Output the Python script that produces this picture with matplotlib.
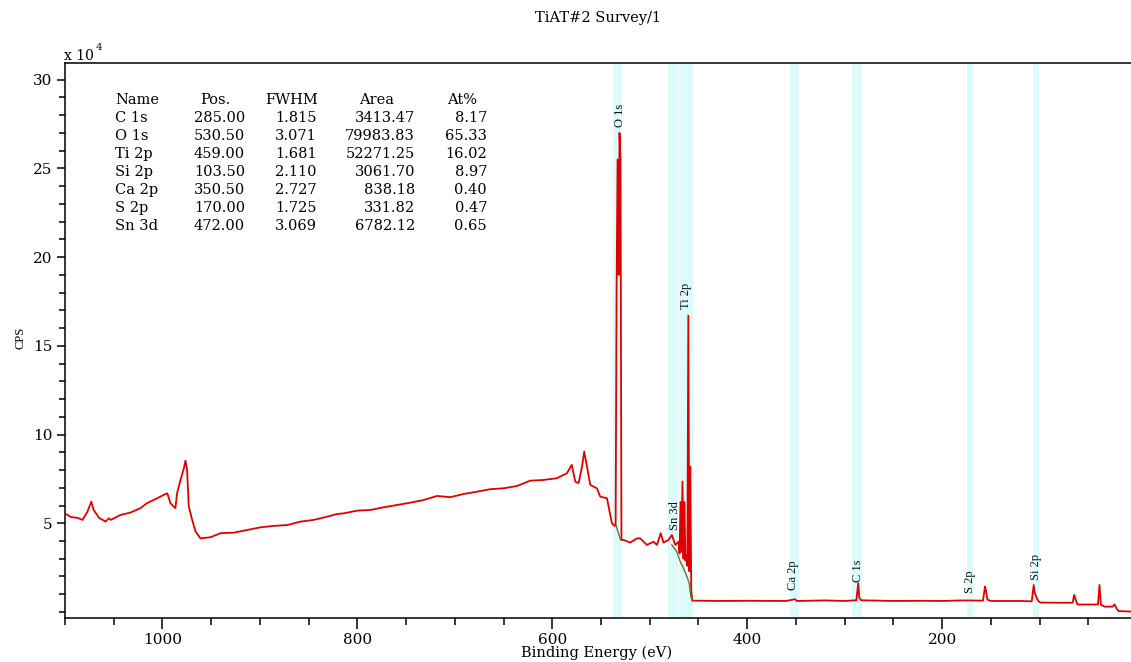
import matplotlib
matplotlib.use("Agg")
import matplotlib.pyplot as plt
from matplotlib.ticker import MultipleLocator

# ---------------- data (counts in units of 10^4 CPS) ----------------
energy = [1100, 1094, 1087, 1082, 1077, 1073, 1070.6, 1065, 1060, 1058.5, 1055, 1053,
          1043, 1033, 1022.6, 1015.7, 1005.4, 998.7, 995, 991.8, 986.7, 985, 981.5,
          978, 976.4, 974.7, 973, 969.5, 966, 961, 950.8, 940.5, 926.9, 913.2, 899.5,
          885.9, 872, 858.5, 844.8, 831, 820.8, 814, 800.3, 786.7, 773, 759.3, 745.6,
          732, 718.3, 704.6, 691, 677.2, 663.6, 650, 636.2, 622.6, 609, 595.2, 585,
          580, 576.4, 573, 569.5, 567.2, 564.4, 561, 554.2, 550.8, 543.9, 541.2,
          538.8, 536, 535, 534, 533, 532, 531, 530, 529, 526.9, 520, 513.1, 509.7,
          503, 496, 492.6, 488.7, 485.9, 480.7, 477.3, 473.8, 470.4, 469.4, 468.4,
          467.4, 466.4, 465.4, 464.4, 463.4, 462.4, 461.4, 460.4, 459.4, 458.4,
          457.4, 456.4, 430, 400, 360, 351, 349, 320, 300, 288, 286, 285, 283, 250,
          220, 200, 180, 158, 156, 155, 153.5, 150, 120, 108, 106, 105, 103, 101, 99,
          80, 66, 64.5, 63, 61, 50, 40, 38.5, 37, 33, 25, 23, 21, 19, 5, 0]
counts = [5.56, 5.35, 5.30, 5.19, 5.65, 6.22, 5.75, 5.30, 5.15, 5.09, 5.28, 5.19,
          5.47, 5.60, 5.85, 6.14, 6.41, 6.60, 6.69, 6.13, 5.85, 6.69, 7.44,
          8.10, 8.53, 8.00, 5.94, 5.19, 4.53, 4.15, 4.21, 4.44, 4.47, 4.62, 4.77,
          4.85, 4.90, 5.09, 5.19, 5.37, 5.52, 5.56, 5.71, 5.75, 5.90, 6.03, 6.16,
          6.31, 6.54, 6.47, 6.65, 6.78, 6.92, 6.97, 7.10, 7.40, 7.44, 7.54, 7.82,
          8.29, 7.35, 7.26, 8.19, 9.04, 8.19, 7.16, 6.97, 6.50, 6.41, 5.65,
          5.00, 4.85, 4.90, 18.15, 25.5, 19.0, 27.0, 25.5, 4.06, 4.06, 3.91, 4.15, 4.15,
          3.78, 3.96, 3.78, 4.44, 3.91, 4.06, 4.34, 3.78, 3.96, 3.30, 6.20,
          3.40, 7.35, 3.00, 6.20, 2.90, 3.20, 2.60, 16.70, 2.30, 8.20,
          1.20, 0.64, 0.62, 0.63, 0.62, 0.72, 0.62, 0.65, 0.62, 0.66, 1.62, 0.80, 0.66, 0.62,
          0.63, 0.62, 0.65, 0.64, 1.43, 1.20, 0.70, 0.62, 0.62, 0.60, 1.52, 1.10, 0.80, 0.60, 0.53,
          0.52, 0.52, 0.96, 0.70, 0.42, 0.42, 0.42, 1.52, 0.40, 0.30, 0.30, 0.43, 0.20, 0.05, 0.02, 0.02]

# background (olive) lines under the fitted regions
bg_o1s_energy = [534.4, 530.0]
bg_o1s_counts = [4.85, 4.06]
bg_ti_energy = [477.3, 472.3, 468.7, 465.3, 461.8, 459.5, 457.8, 456.4]
bg_ti_counts = [3.78, 3.40, 2.84, 2.46, 1.99, 1.62, 0.86, 0.64]

# shaded regions (eV, high -> low)
region_hi = [537.4, 481.0, 470.0, 356.0, 292.6, 174.8, 107.0]
region_lo = [528.2, 471.0, 456.0, 346.7, 282.4, 168.7, 101.0]

# peak labels
peak_names = ["O 1s", "Sn 3d", "Ti 2p", "Ca 2p", "C 1s", "S 2p", "Si 2p"]
peak_label_e = [530.3, 473.8, 463.0, 352.8, 286.0, 171.0, 103.6]
peak_label_y = [27.34, 4.62, 17.1, 1.24, 1.69, 1.07, 1.80]

# quantification table
tbl_header = ["Name", "Pos.", "FWHM", "Area", "At%"]
tbl_name = ["C 1s", "O 1s", "Ti 2p", "Si 2p", "Ca 2p", "S 2p", "Sn 3d"]
tbl_pos = ["285.00", "530.50", "459.00", "103.50", "350.50", "170.00", "472.00"]
tbl_fwhm = ["1.815", "3.071", "1.681", "2.110", "2.727", "1.725", "3.069"]
tbl_area = ["3413.47", "79983.83", "52271.25", "3061.70", "838.18", "331.82", "6782.12"]
tbl_at = ["8.17", "65.33", "16.02", "8.97", "0.40", "0.47", "0.65"]

xticks = [1000, 800, 600, 400, 200, 0]
yticks = [5, 10, 15, 20, 25, 30]

# ---------------- figure ----------------
W, H = 1131, 662
fig = plt.figure(figsize=(W / 100, H / 100), dpi=100)
ax = fig.add_axes([65 / W, (H - 618) / H, (1137 - 65) / W, (618 - 62.7) / H])

serif = "DejaVu Serif"
nserif = "Liberation Serif"

for hi, lo in zip(region_hi, region_lo):
    ax.axvspan(lo, hi, color="#dcfcfc", lw=0, zorder=0)

ax.plot(energy, counts, color="#e00000", lw=1.3, zorder=3)
ax.plot(bg_o1s_energy, bg_o1s_counts, color="#7a6a2a", lw=1.0, zorder=4)
ax.plot(bg_ti_energy, bg_ti_counts, color="#7a6a2a", lw=1.0, zorder=4)

for name, e, y in zip(peak_names, peak_label_e, peak_label_y):
    ax.text(e, y, name, rotation=90, ha="center", va="bottom",
            family=nserif, fontsize=9, color="#111111", zorder=5)

ax.set_xlim(1100, 0)
ax.set_ylim(-0.34, 30.96)
ax.set_xticks(xticks)
ax.set_xticklabels([str(t) for t in xticks])
ax.xaxis.set_minor_locator(MultipleLocator(50))
ax.set_yticks(yticks)
ax.set_yticklabels([str(t) for t in yticks])
ax.yaxis.set_minor_locator(MultipleLocator(1))

ax.tick_params(axis="x", which="major", direction="out", length=8, width=1.1,
               pad=3, labelsize=11)
ax.tick_params(axis="x", which="minor", direction="out", length=5, width=1.1)
ax.tick_params(axis="y", which="major", direction="out", length=6, width=1.1,
               pad=3, labelsize=11)
ax.tick_params(axis="y", which="minor", direction="out", length=4, width=1.1)
for lbl in ax.get_xticklabels() + ax.get_yticklabels():
    lbl.set_family(serif)
for sp in ax.spines.values():
    sp.set_linewidth(1.1)

def px(x, y):
    return x / W, 1 - y / H

# title, axis labels, multiplier
fig.text(*px(598, 18), "TiAT#2 Survey/1", ha="center", va="center",
         family=serif, fontsize=10.5)
fig.text(*px(597, 653), "Binding Energy (eV)", ha="center", va="center",
         family=serif, fontsize=10.5)
fig.text(*px(21, 338), "CPS", rotation=90, ha="center", va="center",
         family=nserif, fontsize=9)
fig.text(*px(64, 56), "x 10", ha="left", va="center", family=serif, fontsize=10)
fig.text(*px(96, 47), "4", ha="left", va="center", family=serif, fontsize=7.5)

# table
row_y0, row_dy = 100.5, 17.9
tfs = 10.5
fig.text(*px(115, row_y0), tbl_header[0], ha="left", va="center", family=serif, fontsize=tfs)
fig.text(*px(215, row_y0), tbl_header[1], ha="center", va="center", family=serif, fontsize=tfs)
fig.text(*px(292, row_y0), tbl_header[2], ha="center", va="center", family=serif, fontsize=tfs)
fig.text(*px(377, row_y0), tbl_header[3], ha="center", va="center", family=serif, fontsize=tfs)
fig.text(*px(462, row_y0), tbl_header[4], ha="center", va="center", family=serif, fontsize=tfs)
for i in range(len(tbl_name)):
    y = row_y0 + row_dy * (i + 1)
    fig.text(*px(115, y), tbl_name[i], ha="left", va="center", family=serif, fontsize=tfs)
    fig.text(*px(245, y), tbl_pos[i], ha="right", va="center", family=serif, fontsize=tfs)
    fig.text(*px(317, y), tbl_fwhm[i], ha="right", va="center", family=serif, fontsize=tfs)
    fig.text(*px(415, y), tbl_area[i], ha="right", va="center", family=serif, fontsize=tfs)
    fig.text(*px(487, y), tbl_at[i], ha="right", va="center", family=serif, fontsize=tfs)

fig.savefig("out.png", dpi=100)
